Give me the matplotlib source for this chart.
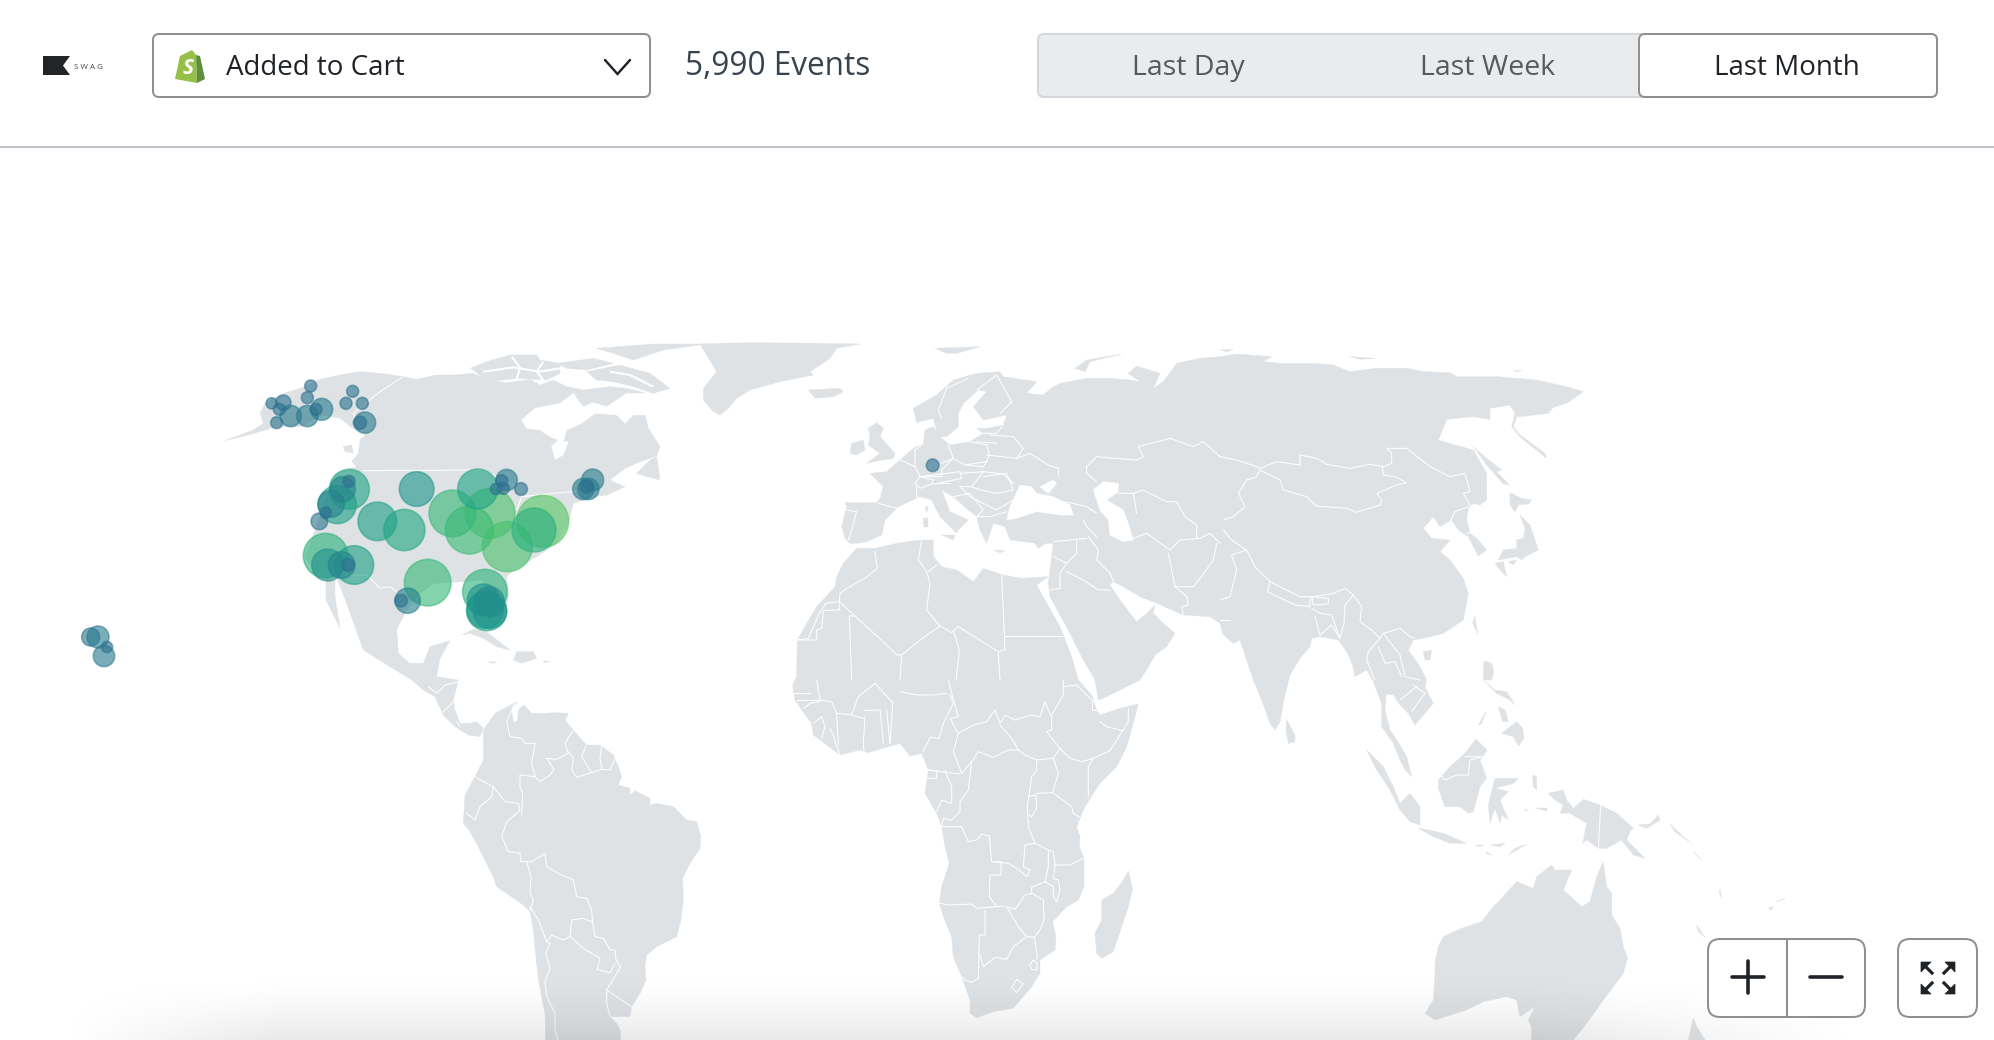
import numpy as np
import matplotlib
matplotlib.use("Agg")
import matplotlib.pyplot as plt
from matplotlib.patches import Polygon, FancyBboxPatch
from matplotlib.collections import PolyCollection, LineCollection
from matplotlib import colormaps

plt.rcParams['font.family'] = ['Open Sans', 'DejaVu Sans']

# ------------------------------------------------------------------ texts
event_name = "Added to Cart"
event_total = "5,990 Events"
range_labels = ["Last Day", "Last Week", "Last Month"]
brand = "SWAG"

# ------------------------------------------------------------------ event locations (map tile A units)
city_x = [388, 368, 387, 352, 333, 317, 298, 472, 553, 590, 773, 697, 810, 748, 862, 968, 942,
          860, 845, 850, 828, 903, 317, 323, 403, 365, 384, 623, 563, 543, 795, 790, 808, 800, 795, 810,
          1118, 1090, 1105, 1100,
          272, 262, 155, 190, 178, 170, 212, 262, 305, 288, 398, 378, 427, 435, 420,
          2138, -366, -388, -339, -348]
city_y = [478, 478, 454, 524, 522, 548, 574, 574, 600, 477, 477, 550, 550, 600, 650, 574, 600,
          450, 452, 475, 477, 477, 677, 705, 705, 705, 705, 758, 812, 812, 785, 810, 815, 842, 840, 845,
          450, 477, 477, 470,
          168, 203, 220, 218, 238, 278, 258, 258, 238, 238, 184, 220, 220, 278, 278,
          406, 921, 921, 951, 978]
city_events = [355, 142, 32, 320, 158, 28, 62, 332, 379, 267, 355, 483, 555, 511, 555, 600, 430,
               101, 32, 32, 28, 36, 443, 227, 332, 158, 36, 483, 142, 36, 443, 227, 200, 355, 298, 247,
               107, 101, 101, 39,
               32, 32, 28, 52, 32, 32, 101, 101, 107, 32, 32, 32, 32, 101, 39,
               36, 107, 72, 28, 101]

# ------------------------------------------------------------------ land outlines in tiles
TILES = {'A': (220, 330), 'B': (720, 330), 'C': (1220, 330),
         'D': (400, 680), 'E': (900, 680), 'F': (1400, 680)}

north_america = [('A', [(120,250),(135,220),(190,190),(250,172),(300,148),(360,135),(420,125),(480,130),(550,140),
    (590,148),(650,135),(700,135),(760,130),(800,150),(860,158),(930,148),(960,165),(1000,150),(1040,170),(1090,180),
    (1170,170),(1220,175),(1280,190),(1275,255),(1285,295),(1320,350),(1310,378),(1260,395),(1215,415),(1170,450),
    (1190,460),(1215,470),(1160,495),(1120,500),(1060,520),(1045,580),(1010,640),(950,680),(880,720),(860,740),
    (865,800),(845,880),(810,800),(790,750),(730,755),(640,760),(600,790),(560,840),(530,900),(535,970),(570,1000),
    (610,1000),(630,950),(690,932),(660,985),(650,1040),(715,1050)]),
    ('D', [(160,60),(165,90),(180,130),(210,130),(230,125),(250,145),(240,170),(205,165),(165,140),(130,105),(105,50),(70,30),(35,0)]),
    ('A', [(510,1010),(430,960),(405,890),(365,780),(350,745),(290,730),(255,680),(300,560),(330,470),(350,430),
    (410,410),(395,395),(415,370),(420,330),(440,310),(405,300),(360,265),(310,255),(240,290),(170,290),(85,315),
    (15,332),(100,300),(130,280)])]
south_america = [('D', [(250,150),(285,100),(345,68),(352,66),(335,90),(340,125),(352,125),(355,90),(372,75),(395,100),
    (430,100),(470,98),(505,100),(495,120),(520,150),(545,180),(560,195),(600,195),(640,225),(655,260),(665,290),
    (655,315),(690,325),(690,345),(705,332),(750,355),(750,375),(770,370),(820,380),(860,420),(890,425),(903,470),
    (900,505),(870,550),(848,595),(850,660),(843,720),(830,770),(770,800),(740,825),(735,860),(738,900),(720,940),
    (695,980),(690,1010),(630,1010),(650,1030),(662,1055),(660,1085),(437,1085),(435,1000),(415,900),(400,750),
    (390,695),(370,675),(290,620),(280,590),(235,500),(210,455),(190,430),(195,345),(225,290),(250,240)])]
africa = [('B', [(410,655),(465,655),(530,640),(600,630),(640,630),(640,680),(665,710),(710,720),(760,755),(790,715),
    (850,735),(905,745),(985,740),(950,765),(975,810),(1020,890),(1055,980),(1075,1050)]),
    ('E', [(575,45),(590,90),(600,105),(660,85),(715,72),(700,130),(680,200),(650,260),(600,310),(570,355),(550,390),
    (530,440),(540,470),(538,500),(552,535),(552,620),(535,660),(500,680),(458,725),(468,770),(465,810),(420,840),
    (420,880),(395,920),(340,985),(280,995),(230,1013),(210,1000),(210,960),(185,890),(160,830),(155,770),(130,710),
    (118,670),(125,620),(148,550),(135,500),(125,440),(110,400),(75,340),(85,270),(65,220),(30,228),(0,190)]),
    ('D', [(1405,218),(1380,210),(1320,225),(1280,195),(1240,165),(1235,130),(1205,90),(1185,60),(1178,15)]),
    ('B', [(230,1040),(232,930),(260,880),(290,830),(345,770),(350,740),(370,700)])]
eurasia = [('B', [(390,640),(375,625),(365,590),(380,530),(375,518),(470,518),(480,505),(490,470),(450,430),(500,425),
    (540,390),(580,355),(610,340),(615,300),(640,290),(660,320),(690,345),(750,335),(790,310),(770,295),(800,295),
    (850,285),(860,255),(790,270),(760,230),(800,185),(775,180),(730,220),(715,250),(715,290),(680,320),(655,320),
    (640,265),(590,278),(580,235),(650,195),(700,150),(770,130),(840,125),(850,140),(950,155),(920,190),(970,195),
    (1000,170),(1020,160),(1100,145),(1170,145),(1230,150),(1260,155),(1225,130),(1250,108),(1320,130),(1300,175),
    (1330,155),(1370,100),(1440,85),(1500,80)]),
    ('C', [(50,72),(155,80),(130,95),(180,100),(280,100),(340,105),(390,125),(465,115),(560,115),(610,125),(690,128),
    (710,140),(830,140),(950,150),(1040,170),(1090,185),(1040,220),(1000,232),(985,250),(920,258),(890,260),(880,290),
    (900,315),(975,370),(980,385),(900,320),(875,290),(885,250),(870,225),(810,235),(810,268),(760,260),(680,268),
    (655,330),(705,345),(760,360),(800,430),(800,510),(780,525),(760,520),(745,535),(740,570),(750,610),(770,625),
    (800,660),(775,678),(745,620),(715,600),(695,570),(660,590),(640,560),(610,595),(635,625),(690,630),(660,665),
    (690,690),(730,745),(745,790),(730,870),(670,910),(610,925),(580,930),(565,960),(600,1010),(620,1050)]),
    ('F', [(75,20),(100,70),(45,135),(25,100),(0,75)]),
    ('E', [(1480,45),(1458,42),(1455,90),(1470,150),(1500,195)]),
    ('F', [(20,230),(35,290),(15,270)]),
    ('E', [(1500,240),(1480,190),(1445,140),(1445,70),(1418,0)]),
    ('C', [(440,1020),(405,1040),(398,1005),(380,965),(355,930),(300,920),(275,925),(270,950),(240,985),(210,1035)]),
    ('E', [(1155,45),(1140,125),(1125,150),(1110,130),(1085,60),(1060,0)]),
    ('C', [(60,930),(40,940),(10,915)]),
    ('B', [(1500,880),(1470,860),(1390,855),(1345,835),(1310,820),(1260,800),(1210,770),(1180,755),(1170,765),(1200,810),
    (1230,850),(1250,875),(1280,850),(1305,825),(1300,850),(1330,880),(1365,910),(1340,950),(1305,975),(1280,1020)]),
    ('E', [(720,0),(680,20),(620,50),(595,60),(585,0)]),
    ('B', [(1090,990),(1045,900),(990,800),(985,760),(1000,640),(950,640),(870,630),(855,590),(820,580),(800,640),(780,600),
    (770,560),(745,540),(700,500),(665,480),(690,545),(745,570),(715,600),(710,610),(660,560),(635,510),(600,500),
    (535,530),(495,570),(485,615),(440,635),(410,640)])]
greenland = [('B', [(0,40),(100,38),(300,40),(420,42),(350,55),(330,85),(270,125),(280,135),(180,155),(90,180),(50,205),
    (25,235),(0,255)]), ('A', [(1480,245),(1450,210),(1450,175),(1490,125),(1460,75),(1440,42)])]
australia = [('F', [(75,1000),(100,960),(105,880),(105,850),(115,800),(130,770),(185,745),(245,725),(280,680),(300,660),
    (350,605),(400,625),(410,590),(455,555),(465,570),(515,570),(490,630),(545,680),(570,665),(590,590),(610,545),
    (620,620),(635,640),(635,705),(660,745),(670,800),(683,835),(670,880),(610,960),(560,1030),(520,1080),(395,1080),
    (395,1040),(385,1020),(405,980),(360,1010),(350,960),(320,950),(250,965),(200,990),(105,1020)])]
new_guinea = [('F', [(445,340),(490,330),(500,360),(520,385),(550,358),(600,375),(650,400),(700,445),(690,455),(680,480),
    (735,535),(700,525),(665,480),(620,505),(595,505),(560,480),(548,490),(560,430),(510,400),(480,400),(490,375),(465,360)])]
borneo = [('F', [(115,300),(150,260),(190,225),(228,178),(262,210),(240,240),(260,295),(240,320),(220,395),(205,400),
    (180,380),(135,380),(115,325)])]
sumatra = [('E', [(1400,210),(1450,260),(1480,320),(1500,370)]), ('F', [(30,340),(60,380),(60,435),(30,425),(0,390)]),
    ('E', [(1470,330),(1430,270)])]
madagascar = [('E', [(685,573),(698,630),(685,680),(640,815),(605,835),(590,820),(585,760),(605,720),(605,660),(640,640),(670,600)])]
sri_lanka = [('E', [(1160,120),(1185,165),(1185,185),(1165,190),(1158,150)])]
small_islands = [
    ('A', [(750,115),(800,95),(870,75),(950,75),(960,90),(1020,100),(1020,130),(980,150),(900,145),(800,155),(760,120)]),
    ('A', [(1130,55),(1300,42),(1460,42),(1330,60),(1240,90),(1180,70)]),
    ('A', [(1100,125),(1200,105),(1290,130),(1350,175),(1300,190),(1240,170),(1180,155),(1130,150)]),
    ('A', [(1010,100),(1120,85),(1180,100),(1100,120),(1040,115)]),
    ('A', [(1065,195),(1110,190),(1130,210),(1090,230)]),
    ('A', [(725,915),(760,898),(800,905),(850,945),(870,960),(830,950),(790,925),(750,910)]),
    ('A', [(890,965),(940,965),(950,985),(905,1000),(880,990)]),
    ('A', [(805,995),(830,995),(820,1000)]), ('A', [(970,992),(992,995),(975,998)]),
    ('A', [(1250,430),(1290,390),(1310,380),(1320,450),(1280,440)]),
    ('A', [(370,350),(395,345),(400,370),(375,365)]),
    ('A', [(318,745),(345,750),(345,800),(360,895),(318,810)]),
    ('B', [(445,295),(470,278),(490,295),(480,320),(525,370),(520,385),(460,395),(440,400),(480,370),(445,345),(450,320)]),
    ('B', [(390,370),(395,340),(430,330),(435,360),(410,375)]),
    ('B', [(265,180),(360,175),(370,185),(340,200),(285,205)]),
    ('B', [(1065,115),(1100,90),(1205,72),(1110,95),(1095,125)]),
    ('B', [(645,55),(780,50),(710,70),(680,70)]),
    ('B', [(610,565),(625,565),(625,590),(612,590)]), ('B', [(615,530),(625,530),(620,548)]),
    ('B', [(665,615),(705,615),(700,630)]), ('B', [(820,660),(855,662),(840,668)]),
    ('B', [(945,640),(985,635),(955,655)]),
    ('C', [(390,80),(465,85),(420,88)]), ('C', [(0,60),(40,58),(20,65)]), ('C', [(880,122),(905,122),(890,125)]),
    ('C', [(760,350),(800,385),(845,420),(830,425),(868,465),(850,462),(800,405)]),
    ('C', [(870,488),(905,505),(935,510),(925,522),(895,525),(885,545),(870,525)]),
    ('C', [(900,555),(930,585),(955,660),(915,680),(905,690),(890,680),(835,690),(850,660),(890,655),(890,630),(910,625),(915,595)]),
    ('C', [(865,695),(890,690),(880,705)]), ('C', [(825,700),(850,695),(860,740),(845,725)]),
    ('C', [(765,858),(773,912),(758,880)]), ('C', [(610,965),(635,960),(630,990),(615,990)]),
    ('C', [(792,992),(815,1000),(822,1025),(815,1050),(790,1050)]),
    ('F', [(250,0),(285,30),(320,35),(345,75),(330,60),(290,40)]), ('F', [(295,80),(315,90),(325,125),(308,125)]),
    ('F', [(305,160),(350,125),(368,145),(372,175),(355,198),(340,170)]), ('F', [(235,135),(258,95),(245,130)]),
    ('F', [(285,295),(355,295),(340,310),(285,325),(325,335),(300,360),(325,420),(305,405),(300,430),(285,385),(270,430),(265,375)]),
    ('F', [(55,445),(85,450),(130,460),(200,490),(150,490),(100,470)]),
    ('F', [(225,495),(250,495),(240,500)]), ('F', [(270,495),(315,490),(300,500)]),
    ('F', [(325,525),(345,505),(380,492),(350,510)]), ('F', [(258,515),(278,525),(262,522)]),
    ('F', [(398,285),(410,290),(410,330),(400,320)]), ('F', [(405,385),(440,385),(440,392)]), ('F', [(375,387),(385,392),(376,392)]),
    ('F', [(715,435),(750,432),(775,405),(780,420),(740,445)]), ('F', [(810,432),(825,455),(875,490),(850,470)]),
    ('F', [(880,515),(905,540),(885,522)]), ('F', [(960,625),(965,655),(958,640)]),
    ('F', [(1105,685),(1120,680),(1115,690)]), ('F', [(1130,665),(1155,655),(1140,662)]),
    ('F', [(890,735),(915,772),(895,755)]), ('F', [(880,1015),(890,1040),(915,1080),(865,1080)]),
]
arctic_channels = [
    ('A', [(790,125),(880,112),(960,125),(1020,115)]), ('A', [(875,80),(900,112),(890,148)]),
    ('A', [(970,95),(950,125),(970,150)]), ('A', [(1170,125),(1230,135),(1300,170)]),
]
inland_water = [
    ('A', [(905,270),(945,235),(1020,220),(1060,190),(1110,215),(1160,230),(1220,190),(1300,190),(1350,180),(1275,255),
           (1240,255),(1215,280),(1190,255),(1125,250),(1085,280),(1040,300),(1030,335),(1045,335),(1030,375),(1005,388),
           (995,350),(1015,330),(990,320),(960,300),(920,295)]),
    ('B', [(870,530),(900,465),(935,470),(950,490),(1000,500),(1050,525),(1060,555),(1020,555),(950,545),(890,565),(860,570)]),
    ('B', [(960,470),(1000,450),(1010,460),(985,490)]),
    ('B', [(1120,480),(1150,455),(1195,460),(1195,485),(1160,510),(1210,540),(1225,580),(1240,630),(1210,635),(1170,615),(1165,570),(1140,540)]),
]
borders = [
    ('A', [(430,422),(790,420),(830,440),(890,470)]), ('A', [(890,540),(905,500),(1000,490),(1060,485),(1120,480)]),
    ('A', [(550,140),(480,185),(400,250),(430,320)]), ('A', [(360,735),(440,735),(480,775),(510,770),(535,790),(560,850)]),
    ('D', [(85,20),(110,40),(135,15),(175,5)]), ('D', [(130,95),(160,65)]), ('D', [(170,125),(180,140)]),
    ('D', [(345,68),(320,125),(330,170),(365,175),(375,190),(405,190),(395,250),(405,290),(420,305),(450,285),(462,268),(440,235),(470,238),(505,220),(495,190),(520,150)]),
    ('D', [(505,215),(520,235),(515,270),(530,292),(575,278),(545,230),(558,197)]),
    ('D', [(575,278),(605,268),(600,235),(605,200)]), ('D', [(605,268),(630,270),(645,235)]),
    ('D', [(405,290),(360,285),(360,320),(368,340),(365,405)]),
    ('D', [(225,290),(260,310),(280,320),(275,350),(240,380),(225,420),(200,400)]),
    ('D', [(280,320),(315,365),(355,370),(360,390),(345,405),(320,425),(305,470),(325,515),(360,520),(362,545),(395,545),(435,520),(440,560),(475,580),(520,600),(530,650),(560,655),(575,690),(578,730),(585,770),(610,775),(630,810),(645,810),(648,840),(662,860),(620,930),(695,980)]),
    ('D', [(620,930),(620,970),(630,1010)]), ('D', [(380,545),(393,590),(390,640),(400,660),(390,690)]),
    ('D', [(390,680),(415,720),(440,785),(455,765),(490,780),(510,770)]),
    ('D', [(510,770),(515,720),(550,715),(575,725)]), ('D', [(510,770),(550,805),(600,835),(592,868),(630,878),(645,850)]),
    ('D', [(440,785),(450,790),(437,820),(450,865),(435,905),(440,950),(465,1000),(465,1050),(475,1085)]),
    ('B', [(465,665),(472,715),(435,745),(380,775),(360,790),(358,815),(318,820),(300,845),(265,925),(232,930)]),
    ('B', [(358,815),(358,840),(310,842),(305,895),(290,900),(290,930),(232,930)]),
    ('B', [(358,815),(405,858),(388,858),(395,1050)]),
    ('B', [(405,858),(500,945),(530,975),(545,975),(600,930),(660,888)]),
    ('B', [(605,630),(595,690),(620,725),(630,760),(620,840),(660,888)]), ('B', [(650,705),(625,725)]),
    ('B', [(845,735),(855,960)]), ('B', [(855,918),(1025,918)]),
    ('B', [(660,888),(695,908),(715,890),(835,965),(855,958)]), ('B', [(835,965),(840,1050)]),
    ('B', [(700,900),(718,960),(708,1050)]), ('B', [(545,975),(540,1050)]),
    ('E', [(145,0),(155,40),(175,110),(150,115),(175,160),(220,135),(260,125),(285,90)]),
    ('E', [(285,90),(300,130),(315,105),(345,120),(395,105),(420,110),(435,65),(445,90),(455,110)]),
    ('E', [(490,0),(490,45),(455,105),(455,150),(440,155),(480,205)]),
    ('E', [(300,135),(335,175),(355,210),(375,225),(410,240)]),
    ('E', [(150,45),(160,70),(130,130),(118,175),(90,172),(70,215)]),
    ('E', [(175,160),(160,215),(185,280),(215,245),(235,215),(280,232),(325,210),(355,210)]),
    ('E', [(85,270),(180,282)]), ('E', [(85,270),(110,272),(110,295),(80,295)]),
    ('E', [(135,272),(155,320),(155,370),(125,360),(110,395)]),
    ('E', [(215,245),(205,330),(180,365),(180,395),(155,420),(130,415),(125,440)]),
    ('E', [(125,440),(185,440),(205,485),(230,480),(245,462),(268,468),(275,545),(303,545),(303,585),(270,585),(268,650),(290,680)]),
    ('E', [(118,670),(150,675),(215,672),(230,685),(290,680),(315,678)]),
    ('E', [(275,545),(325,550),(350,565),(380,590),(390,570),(370,560),(375,495),(405,490)]),
    ('E', [(405,490),(385,440),(382,380),(395,290),(410,270),(410,240)]),
    ('E', [(410,240),(460,235),(475,280),(458,338),(408,340)]),
    ('E', [(458,338),(515,380),(520,400),(540,412)]), ('E', [(385,350),(408,345),(410,385),(395,410),(388,405)]),
    ('E', [(550,535),(510,555),(465,555)]), ('E', [(405,490),(445,510),(460,515),(465,555)]),
    ('E', [(445,510),(445,560),(435,605),(460,620),(460,650),(470,665),(480,630),(475,600),(460,595),(465,555)]),
    ('E', [(435,605),(395,622),(395,640)]),
    ('E', [(395,640),(430,660),(432,720),(420,750),(403,772),(380,770),(355,740),(320,680),(345,688),(375,645),(395,640)]),
    ('E', [(255,692),(255,765),(238,765),(235,895),(215,907),(195,900),(185,890)]),
    ('E', [(240,825),(250,860),(285,832),(320,838),(340,800),(380,770)]), ('E', [(403,772),(412,830),(410,840)]),
    ('E', [(400,840),(412,850),(410,870),(395,868),(390,855),(400,840)]),
    ('E', [(350,898),(370,912),(350,938),(335,922),(350,898)]),
    ('E', [(565,350),(565,260),(580,235)]), ('E', [(480,205),(510,235),(545,245),(580,235),(630,212),(668,152)]),
    ('E', [(600,125),(620,140),(668,152)]), ('E', [(685,85),(685,125),(668,152)]), ('E', [(460,235),(480,205)]),
    ('E', [(490,20),(530,15),(575,60)]), ('E', [(575,60),(575,90),(600,90)]),
    ('D', [(1250,0),(1260,60),(1295,65),(1310,100),(1315,195)]), ('D', [(1395,110),(1390,190),(1392,215)]),
    ('D', [(1395,92),(1440,90)]), ('D', [(1440,90),(1450,190)]), ('D', [(1460,90),(1470,190)]),
    ('D', [(1355,105),(1375,50),(1425,10),(1480,70)]), ('D', [(1478,70),(1470,190)]),
    ('D', [(1180,40),(1230,40)]), ('D', [(1190,60),(1260,60)]), ('D', [(1210,85),(1230,70),(1260,65)]),
    ('D', [(1240,130),(1265,110),(1275,140),(1265,175)]), ('D', [(1290,145),(1300,165),(1305,185),(1320,225)]),
    ('D', [(1310,100),(1355,105),(1390,115)]), ('E', [(0,35),(50,45),(100,45),(140,40)]),
    ('B', [(380,540),(410,545),(395,600),(385,630)]), ('B', [(475,520),(530,535)]), ('B', [(540,390),(585,410)]),
    ('B', [(610,340),(585,360),(585,410),(600,440),(665,440),(665,420),(700,385),(685,345)]),
    ('B', [(700,385),(735,405),(800,395),(808,375),(800,345),(750,335)]),
    ('B', [(665,400),(700,385)]), ('B', [(735,405),(790,410),(800,395)]),
    ('B', [(600,440),(680,430),(720,425),(725,445),(650,460)]),
    ('B', [(585,460),(600,440),(640,450),(635,462),(600,475),(585,460)]), ('B', [(590,470),(590,500),(605,505)]),
    ('B', [(635,462),(690,460)]), ('B', [(720,430),(790,425),(755,470),(720,470)]),
    ('B', [(790,440),(860,430),(880,480),(830,490),(780,480),(755,470)]),
    ('B', [(800,375),(890,385),(930,370),(985,405),(1015,415),(1015,440)]),
    ('B', [(810,315),(880,320),(910,355),(890,385)]), ('B', [(770,310),(830,310),(850,285)]), ('B', [(770,335),(830,340)]),
    ('B', [(790,425),(850,432),(880,460)]), ('B', [(830,135),(855,180),(875,215),(840,250)]),
    ('B', [(745,145),(680,175),(655,240),(665,265)]), ('B', [(770,180),(830,135)]),
    ('B', [(720,470),(750,500),(790,520),(830,540),(880,510)]), ('B', [(700,500),(750,490),(790,540),(770,560),(810,560),(860,545)]),
    ('B', [(1035,515),(1100,530),(1130,550)]), ('B', [(1090,570),(1100,590),(1130,620)]),
    ('B', [(1000,635),(1100,625)]), ('B', [(1070,630),(1070,670),(1040,700)]),
    ('B', [(1000,680),(1040,700),(1020,730),(1020,775),(990,780)]), ('B', [(1040,725),(1090,750),(1135,780),(1170,780)]),
    ('B', [(1105,620),(1135,660),(1130,690),(1170,730),(1180,755)]), ('B', [(1240,625),(1280,610),(1350,660)]),
    ('B', [(1345,670),(1355,720),(1365,770)]), ('B', [(1365,770),(1400,800),(1405,825),(1385,830),(1390,855)]),
    ('B', [(1365,770),(1420,770),(1440,745),(1480,690),(1490,640)]), ('B', [(1350,660),(1380,630),(1440,625),(1470,610),(1500,640)]),
    ('B', [(1240,490),(1270,480),(1340,515),(1370,515),(1395,560),(1430,585),(1430,625)]),
    ('B', [(1100,410),(1130,380),(1180,385),(1250,390),(1270,380),(1255,350),(1350,325),(1420,350),(1450,335),(1500,380)]),
    ('B', [(1130,455),(1100,430),(1100,410)]), ('B', [(1195,490),(1240,490),(1250,550)]),
    ('C', [(0,380),(50,390),(110,410),(120,415),(170,395),(240,405),(240,375),(290,385),(320,403),(390,415),(450,403),(490,410),(515,400),(515,370),(500,355),(560,355),(630,410),(690,440),(735,430),(750,485),(730,490),(750,525),(745,530),(705,545),(690,575)]),
    ('C', [(120,420),(110,440),(80,450),(55,490),(75,530),(40,560),(10,570)]),
    ('C', [(120,420),(180,450),(190,480),(260,500),(290,528),(380,535),(410,547),(480,525),(485,510),(470,490),(530,465),(560,458),(525,440),(490,435),(487,410)]),
    ('C', [(740,610),(770,605)]),
    ('C', [(10,600),(35,630),(80,660),(105,710),(150,755),(240,800),(270,800),(280,800),(340,790),(375,775),(400,795),(425,830),(420,875),(455,900),(480,925),(490,910),(540,895),(570,920),(585,925)]),
    ('C', [(150,755),(142,785),(225,825),(270,830),(270,800)]), ('C', [(275,800),(325,805),(325,822),(280,825),(275,800)]),
    ('C', [(275,835),(300,850),(335,855),(360,925),(335,885),(300,915),(285,860)]), ('C', [(400,795),(375,825),(372,880),(360,925)]),
    ('C', [(80,660),(35,675),(50,720),(30,800),(0,810)]), ('C', [(30,870),(0,870)]),
    ('C', [(480,925),(445,965),(440,990),(465,1050)]), ('C', [(490,910),(540,975),(555,1040),(600,1050)]),
    ('C', [(475,950),(495,1000),(525,995),(545,1040)]), ('F', [(0,60),(50,20)]), ('F', [(40,15),(75,40),(35,95)]),
    ('F', [(120,285),(135,300),(170,285),(205,285),(210,240),(245,230),(195,230)]),
]
island_borders = [('F', [(602,375),(595,505)])]


def to_map(tile, pts):
    ox, oy = TILES[tile]
    return [(ox + x / 3, oy + y / 3) for x, y in pts]


def ring(parts):
    out = []
    for tile, pts in parts:
        out += to_map(tile, pts)
    return out


fig = plt.figure(figsize=(19.94, 10.40), dpi=100, facecolor='white')
ax = fig.add_axes([0, 0, 1, 1])
ax.set_xlim(0, 1994)
ax.set_ylim(1040, 0)
ax.axis('off')
PX = 0.72  # one pixel in points

LAND = '#dfe2e5'
land_rings = [ring(p) for p in (north_america, south_america, africa, eurasia, greenland, australia,
                                new_guinea, borneo, sumatra, madagascar, sri_lanka)]
ax.add_collection(PolyCollection(land_rings, facecolors=LAND, edgecolors=LAND, linewidths=0.3, zorder=1))
ax.add_collection(PolyCollection([to_map(*w) for w in inland_water], facecolors='white', edgecolors='white',
                                 linewidths=0.3, zorder=2))
ax.add_collection(PolyCollection([to_map(*w) for w in small_islands], facecolors=LAND, edgecolors=LAND,
                                 linewidths=0.3, zorder=3))
ax.add_collection(LineCollection([to_map(*c) for c in arctic_channels], colors='white',
                                 linewidths=2.0 * PX, zorder=3.5))
ax.add_collection(LineCollection([to_map(*b) for b in borders + island_borders], colors='white',
                                 linewidths=1.0 * PX, zorder=4, capstyle='round', joinstyle='round'))

# soft shadow at the foot of the map
yy = np.linspace(0, 1, 70) ** 1.6
xx = np.linspace(0, 1, 400)
fade = np.clip(xx / 0.12, 0, 1) * np.clip((1 - xx) / 0.18, 0, 1)
shade = np.zeros((70, 400, 4))
shade[..., 3] = 0.09 * yy[:, None] * fade[None, :]
ax.imshow(shade, extent=(60, 1860, 1040, 972), aspect='auto', zorder=5, interpolation='bilinear')
ax.set_xlim(0, 1994)
ax.set_ylim(1040, 0)

# bubbles
ev = np.array(city_events, float)
share = np.sqrt(ev / ev.max())
radius = 26.0 * share
tone = 0.37 + 0.37 * (np.clip(share - 0.23, 0, None) / 0.77) ** 1.5
cmap = colormaps['viridis']
order = np.argsort(-ev)
bx = 220 + np.array(city_x, float) / 3
by = 330 + np.array(city_y, float) / 3
fc = cmap(tone[order]); fc[:, 3] = 0.62
ec = cmap(tone[order]); ec[:, 3] = 0.55
ax.scatter(bx[order], by[order], s=(2 * radius[order] * PX) ** 2, c=fc, edgecolors=ec,
           linewidths=1.6 * PX, zorder=6)

# header
BORDER = '#8f8f8f'
DARK = '#1f2226'


def box(x0, y0, x1, y1, fc='white', ec=BORDER, lw=2.0, r=6, z=8):
    ax.add_patch(FancyBboxPatch((x0 + r, y0 + r), x1 - x0 - 2 * r, y1 - y0 - 2 * r,
                                boxstyle=f"round,pad={r},rounding_size={r}", fc=fc, ec=ec,
                                lw=lw * PX, zorder=z))


ax.plot([0, 1994], [147, 147], color='#aeb4bb', lw=1.6 * PX, zorder=8)
ax.add_patch(Polygon([(43, 56), (70, 56), (63, 65.5), (70, 75), (43, 75)], fc='#222426', ec='none', zorder=9))
ax.text(74, 67.5, " ".join(brand), fontsize=5.8, color='#444444', va='center', ha='left', zorder=9)

box(153, 34, 650, 97)
ax.add_patch(Polygon([(175, 79), (180, 56), (192, 50), (196, 55), (197, 83)], fc='#95bf47', ec='none', zorder=9))
ax.add_patch(Polygon([(197, 83), (196, 55), (200, 56), (205, 79)], fc='#5e8e3e', ec='none', zorder=9))
ax.text(188, 68, "S", fontsize=15, color='white', fontweight='bold', style='italic', ha='center', va='center', zorder=10)
ax.text(226, 68, event_name, fontsize=20, color=DARK, va='center', ha='left', zorder=9)
ax.plot([605, 617.5, 630], [60, 74, 60], color=DARK, lw=2.4 * PX, zorder=9, solid_capstyle='round', solid_joinstyle='miter')
ax.text(685, 66.5, event_total, fontsize=22.7, color='#37424f', va='center', ha='left', zorder=9)

box(1038, 34, 1937, 97, fc='#e9ebed', ec='#d3d6da')
box(1639, 34, 1937, 97, fc='white', ec=BORDER, z=9)
for label, cx, col, size in zip(range_labels, [1188, 1488, 1787], ['#555a5f', '#555a5f', DARK], [20.5, 20.5, 20]):
    ax.text(cx, 68, label, fontsize=size, color=col, ha='center', va='center', zorder=10)

# zoom controls
box(1708, 939, 1865, 1017, r=12, z=8)
ax.plot([1787, 1787], [939, 1017], color=BORDER, lw=2 * PX, zorder=9)
ax.plot([1732, 1764], [977, 977], color=DARK, lw=3.6 * PX, zorder=9, solid_capstyle='round')
ax.plot([1748, 1748], [961, 993], color=DARK, lw=3.6 * PX, zorder=9, solid_capstyle='round')
ax.plot([1810, 1842], [977, 977], color=DARK, lw=3.6 * PX, zorder=9, solid_capstyle='round')
box(1898, 939, 1977, 1017, r=12, z=8)
for sx, sy in [(-1, -1), (1, -1), (-1, 1), (1, 1)]:
    cx, cy = 1938, 978
    tip = (cx + sx * 17, cy + sy * 16)
    ax.plot([cx + sx * 6, tip[0] - sx * 3], [cy + sy * 5, tip[1] - sy * 3], color=DARK, lw=3.2 * PX, zorder=9)
    ax.add_patch(Polygon([tip, (tip[0] - sx * 10, tip[1]), (tip[0], tip[1] - sy * 10)], fc=DARK, ec=DARK,
                         lw=0.5, zorder=9))

fig.savefig('out.png', dpi=100, facecolor='white')
